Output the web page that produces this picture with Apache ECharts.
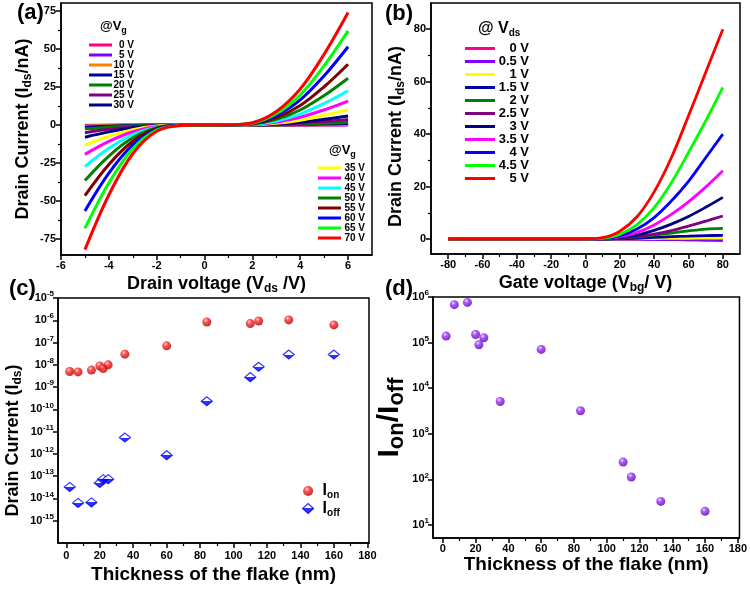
<!DOCTYPE html>
<html>
<head>
<meta charset="utf-8">
<script src="https://cdn.jsdelivr.net/npm/echarts@6/dist/echarts.min.js"></script>
<style>
  html, body { margin: 0; padding: 0; background: #fff; }
  #main { width: 750px; height: 590px; }
</style>
</head>
<body>
<div id="main"></div>
<script>
/* (a) output curves, Ids (nA) vs Vds at each gate voltage */
const vdsA = [-5, -4, -3, -2, -1, 0, 1, 2, 3, 4, 5, 6];
const vgLabels = ['0 V', '5 V', '10 V', '15 V', '20 V', '25 V', '30 V', '35 V', '40 V', '45 V', '50 V', '55 V', '60 V', '65 V', '70 V'];
const a_vg0 = [-0.1, -0.06, -0.02, 0, 0, 0, 0, 0, 0, 0.02, 0.03, 0.05];
const a_vg5 = [-0.3, -0.17, -0.07, -0.02, 0, 0, 0, 0, 0.02, 0.06, 0.13, 0.2];
const a_vg10 = [-0.6, -0.34, -0.14, -0.03, 0, 0, 0, 0.01, 0.05, 0.13, 0.25, 0.4];
const a_vg15 = [-1.4, -0.8, -0.3, -0.07, 0, 0, 0, 0.02, 0.12, 0.32, 0.63, 1];
const a_vg20 = [-2.5, -1.4, -0.6, -0.13, -0.01, 0, 0, 0.04, 0.22, 0.58, 1.13, 1.8];
const a_vg25 = [-5, -2.8, -1.2, -0.25, -0.02, 0, 0.01, 0.07, 0.44, 1.2, 2.3, 3.7];
const a_vg30 = [-8, -4.5, -1.8, -0.4, -0.03, 0, 0.01, 0.12, 0.7, 1.9, 3.8, 6];
const a_vg35 = [-13.2, -7.4, -3, -0.7, -0.05, 0, 0.02, 0.2, 1.2, 3.2, 6.4, 10.1];
const a_vg40 = [-19.3, -10.8, -4.4, -1, -0.08, 0, 0.03, 0.3, 1.9, 5.1, 10, 15.8];
const a_vg45 = [-27.3, -15.3, -6.3, -1.4, -0.1, 0, 0.05, 0.45, 2.7, 7.2, 14.2, 22.6];
const a_vg50 = [-36.5, -20.4, -8.4, -1.8, -0.15, 0, 0.06, 0.6, 3.7, 9.9, 19.4, 30.8];
const a_vg55 = [-46.5, -26, -10.7, -2.3, -0.2, 0, 0.08, 0.8, 4.8, 12.8, 25.2, 40];
const a_vg60 = [-56.5, -31.6, -13, -2.8, -0.2, 0, 0.1, 1, 6.2, 16.5, 32.4, 51.5];
const a_vg65 = [-68, -38.1, -15.6, -3.4, -0.3, 0, 0.12, 1.2, 7.4, 19.8, 39.1, 62];
const a_vg70 = [-82, -46, -18.9, -4.1, -0.3, 0, 0.15, 1.5, 8.9, 23.7, 46.6, 74];
const curvesA = [a_vg0, a_vg5, a_vg10, a_vg15, a_vg20, a_vg25, a_vg30, a_vg35, a_vg40, a_vg45, a_vg50, a_vg55, a_vg60, a_vg65, a_vg70];
const aXTicks = [-6, -4, -2, 0, 2, 4, 6];
const aXMinor = [-5, -3, -1, 1, 3, 5];
const aYTicks = [-75, -50, -25, 0, 25, 50, 75];
const aYMinor = [-62.5, -37.5, -12.5, 12.5, 37.5, 62.5];

/* (b) transfer curves, Ids (nA) vs Vbg at each drain voltage */
const vbgB = [-80, -60, -40, -20, 0, 10, 20, 30, 40, 50, 60, 70, 80];
const vdsLabels = ['0 V', '0.5 V', '1 V', '1.5 V', '2 V', '2.5 V', '3 V', '3.5 V', '4 V', '4.5 V', '5 V'];
const b_vds0 = [0, 0, 0, 0, 0, 0, -0.05, -0.1, -0.15, -0.2, -0.3, -0.4, -0.5];
const b_vds05 = [0, 0, 0, 0, 0, 0, -0.05, -0.1, -0.15, -0.2, -0.3, -0.4, -0.5];
const b_vds1 = [0, 0, 0, 0, 0, 0, 0.05, 0.1, 0.2, 0.25, 0.3, 0.35, 0.4];
const b_vds15 = [0, 0, 0, 0, 0, 0, 0.1, 0.3, 0.6, 0.9, 1.1, 1.3, 1.4];
const b_vds2 = [0, 0, 0, 0, 0, 0.02, 0.3, 0.8, 1.5, 2.3, 3.1, 3.8, 4.1];
const b_vds25 = [0, 0, 0, 0, 0, 0.03, 0.3, 0.9, 1.9, 3.2, 4.9, 6.8, 8.8];
const b_vds3 = [0, 0, 0, 0, 0, 0.05, 0.5, 1.5, 3.3, 5.7, 8.6, 12.1, 15.9];
const b_vds35 = [0, 0, 0, 0, 0, 0.1, 0.8, 2.5, 5.4, 9.4, 14.2, 19.8, 26];
const b_vds4 = [0, 0, 0, 0, 0, 0.2, 1.2, 3.8, 8.2, 14.5, 22, 31, 40];
const b_vds45 = [0, 0, 0, 0, 0, 0.3, 1.8, 5.5, 12, 21.5, 33, 45, 57.8];
const b_vds5 = [0, 0, 0, 0, 0, 0.5, 3, 8.5, 18, 31, 47, 63.5, 80];
const curvesB = [b_vds0, b_vds05, b_vds1, b_vds15, b_vds2, b_vds25, b_vds3, b_vds35, b_vds4, b_vds45, b_vds5];
const bXTicks = [-80, -60, -40, -20, 0, 20, 40, 60, 80];
const bXMinor = [-70, -50, -30, -10, 10, 30, 50, 70];
const bYTicks = [0, 20, 40, 60, 80];
const bYMinor = [10, 30, 50, 70];

/* (c), (d) thickness dependence */
const thickness = [2, 7, 15, 20, 22, 25, 35, 60, 84, 110, 115, 133, 160];
const ionC = [5.0e-9, 4.8e-9, 5.8e-9, 8.9e-9, 6.8e-9, 1.0e-8, 3.0e-8, 7.1e-8, 8.4e-7, 7.1e-7, 9.3e-7, 1.04e-6, 6.2e-7];
const ioffC = [3.3e-14, 6.3e-15, 6.6e-15, 5.0e-14, 7.3e-14, 7.3e-14, 5.4e-12, 8.7e-13, 2.3e-10, 2.8e-9, 8.1e-9, 2.9e-8, 2.9e-8];
const ratioD = [1.39e5, 6.8e5, 7.6e5, 1.51e5, 9.0e4, 1.28e5, 5.1e3, 7.1e4, 3.2e3, 240, 113, 33, 20];
const tXTicks = [0, 20, 40, 60, 80, 100, 120, 140, 160, 180];
const tXMinor = [10, 30, 50, 70, 90, 110, 130, 150, 170];
const cYTicks = [1e-15, 1e-14, 1e-13, 1e-12, 1e-11, 1e-10, 1e-9, 1e-8, 1e-7, 1e-6, 1e-5];
const dYTicks = [10, 100, 1000, 1e4, 1e5, 1e6];

const colorsA = ['#ff0080', '#8000ff', '#ff8000', '#0000a0', '#008000', '#800080', '#000080', '#ffff00',
  '#ff00ff', '#00ffff', '#008000', '#800000', '#0000ff', '#00ff00', '#ff0000'];
const colorsB = ['#ff0080', '#8000ff', '#ffff00', '#0000a0', '#008000', '#800080', '#000080', '#ff00ff',
  '#0000ff', '#00ff00', '#ff0000'];

const font = 'Liberation Sans';
const bold = { fontFamily: font, fontWeight: 'bold', color: '#000' };

// text styles with subscript (s) / superscript (p)
const richText = (size, subSize, off) => ({
  n: Object.assign({ fontSize: size }, bold),
  s: Object.assign({ fontSize: subSize, padding: [off, 0, 0, 0] }, bold),
  p: Object.assign({ fontSize: subSize, padding: [0, 0, off, 0] }, bold),
  g: { width: 4 },
});

const powLabel = (v) => '{n|10}{p|' + Math.round(Math.log10(v)) + '}';

const mainAxis = (gridIndex, min, max, ticks, extra) => Object.assign({
  type: 'value', gridIndex: gridIndex, min: min, max: max,
  axisLine: { show: true, onZero: false, lineStyle: { color: '#000', width: 1.5 } },
  axisTick: { show: true, length: 5, customValues: ticks, lineStyle: { color: '#000', width: 1.5 } },
  axisLabel: Object.assign({ customValues: ticks, fontSize: 11, margin: 5 }, bold),
  splitLine: { show: false },
}, extra);

// second axis on the same side, only for the short minor ticks
const minorAxis = (gridIndex, min, max, ticks, position) => ({
  type: 'value', gridIndex: gridIndex, min: min, max: max, position: position,
  axisLine: { show: false, onZero: false },
  axisLabel: { show: false },
  splitLine: { show: false },
  axisTick: { show: true, length: 3, customValues: ticks, lineStyle: { color: '#000', width: 1.2 } },
});

// shift moves a rotated y name down the page
const axisName = (size, subSize, off, gap, shift) => ({
  nameLocation: 'middle', nameGap: gap,
  nameTextStyle: { rich: richText(size, subSize, off), padding: [0, shift || 0, 0, 0] },
});

const sphere = (light, mid, dark) => ({
  type: 'radial', x: 0.38, y: 0.32, r: 0.68,
  colorStops: [{ offset: 0, color: light }, { offset: 0.35, color: mid }, { offset: 1, color: dark }],
});

const halfDiamond = {
  type: 'linear', x: 0, y: 0, x2: 0, y2: 1,
  colorStops: [{ offset: 0, color: '#fff' }, { offset: 0.5, color: '#fff' },
    { offset: 0.5, color: '#0000ff' }, { offset: 1, color: '#0000ff' }],
};
const ionStyle = { color: sphere('#ffd0d0', '#ff2a2a', '#b00000') };
const ioffStyle = { color: halfDiamond, borderColor: '#0000ff', borderWidth: 1.2 };

const pairs = (xs, ys) => xs.map((x, i) => [x, ys[i]]);

const lineLegend = (names, left, top, rowH, fontSize, iconW, textW) => ({
  data: names, orient: 'vertical', left: left, top: top, icon: 'rect',
  itemWidth: iconW, itemHeight: 3, itemGap: 0, selectedMode: false,
  formatter: (name) => '{t|' + name.split('|')[1] + '}',
  textStyle: { rich: { t: Object.assign({ fontSize: fontSize, width: textW, align: 'right', lineHeight: rowH }, bold) } },
});

let chartDom = document.getElementById('main');
let myChart = echarts.init(chartDom);

let series = [];
curvesA.forEach((ys, i) => {
  series.push({
    name: 'a|' + vgLabels[i], type: 'line', xAxisIndex: 0, yAxisIndex: 0,
    data: pairs(vdsA, ys), showSymbol: false, symbol: 'none', smooth: 0.35,
    color: colorsA[i], lineStyle: { width: 3, color: colorsA[i] },
  });
});
curvesB.forEach((ys, i) => {
  series.push({
    name: 'b|' + vdsLabels[i], type: 'line', xAxisIndex: 2, yAxisIndex: 2,
    data: pairs(vbgB, ys), showSymbol: false, symbol: 'none', smooth: 0.35,
    color: colorsB[i], lineStyle: { width: 2.8, color: colorsB[i] },
  });
});
series.push({
  name: 'on', type: 'scatter', xAxisIndex: 4, yAxisIndex: 4, data: pairs(thickness, ionC),
  symbol: 'circle', symbolSize: 9, itemStyle: ionStyle,
});
series.push({
  name: 'off', type: 'scatter', xAxisIndex: 4, yAxisIndex: 4, data: pairs(thickness, ioffC),
  symbol: 'diamond', symbolSize: [11, 9], itemStyle: ioffStyle,
});
series.push({
  name: 'ratio', type: 'scatter', xAxisIndex: 6, yAxisIndex: 5, data: pairs(thickness, ratioD),
  symbol: 'circle', symbolSize: 9, itemStyle: { color: sphere('#f0d8ff', '#9a30ff', '#5a00b0') },
});

const gridStyle = { show: true, borderColor: '#000', borderWidth: 1.5, backgroundColor: '#fff' };

let option = {
  animation: false,
  backgroundColor: '#fff',
  grid: [
    Object.assign({ left: 61, top: 3, width: 311, height: 252 }, gridStyle),
    Object.assign({ left: 431, top: 3, width: 309, height: 251 }, gridStyle),
    Object.assign({ left: 58, top: 298, width: 311, height: 245 }, gridStyle),
    Object.assign({ left: 433, top: 297, width: 308, height: 241 }, gridStyle),
  ],
  xAxis: [
    mainAxis(0, -6, 7, aXTicks, Object.assign({ position: 'bottom', name: '{n|Drain voltage (V}{s|ds}{n| /V)}' }, axisName(18, 12, 10, 18))),
    minorAxis(0, -6, 7, aXMinor, 'bottom'),
    mainAxis(1, -90, 90, bXTicks, Object.assign({ position: 'bottom', name: '{n|Gate voltage (V}{s|bg}{n|/ V)}' }, axisName(18, 12, 10, 18))),
    minorAxis(1, -90, 90, bXMinor, 'bottom'),
    mainAxis(2, -5, 181, tXTicks, Object.assign({
      position: 'bottom', name: '{n|Thickness of the flake (nm)}',
      axisLabel: Object.assign({ customValues: tXTicks, fontSize: 11, margin: 7 }, bold),
    }, axisName(19, 12, 10, 22))),
    minorAxis(2, -5, 181, tXMinor, 'bottom'),
    mainAxis(3, -6, 181, tXTicks, Object.assign({ position: 'bottom', name: '{n|Thickness of the flake (nm)}' }, axisName(19, 12, 10, 12))),
    minorAxis(3, -6, 181, tXMinor, 'bottom'),
  ],
  yAxis: [
    mainAxis(0, -85.5, 80.3, aYTicks, Object.assign({ position: 'left', name: '{n|Drain Current (I}{s|ds}{n|/nA)}' }, axisName(18, 12, 10, 27))),
    minorAxis(0, -85.5, 80.3, aYMinor, 'left'),
    mainAxis(1, -5.7, 90, bYTicks, Object.assign({ position: 'left', name: '{n|Drain Current (I}{s|ds}{n|/nA)}' }, axisName(18, 12, 10, 24, 16))),
    minorAxis(1, -5.7, 90, bYMinor, 'left'),
    mainAxis(2, 1e-16, 1e-5, cYTicks, Object.assign({
      type: 'log', logBase: 10, position: 'left',
      name: '{n|Drain Current (I}{s|ds}{n|)}',
      axisLabel: { customValues: cYTicks, margin: 4, formatter: powLabel, rich: richText(11, 8, 8) },
    }, axisName(18, 12, 10, 34, 40))),
    mainAxis(3, 5.2, 1e6, dYTicks, Object.assign({
      type: 'log', logBase: 10, position: 'left',
      name: '{n|I}{s|on}{n|/I}{s|off}',
      axisLabel: { customValues: dYTicks, margin: 4, formatter: powLabel, rich: richText(11, 8, 8) },
    }, axisName(30, 22, 15, 25))),
  ],
  title: [
    { text: '(a)', left: 12, top: -3, textStyle: Object.assign({ fontSize: 22 }, bold) },
    { text: '(b)', left: 380, top: -2, textStyle: Object.assign({ fontSize: 22 }, bold) },
    { text: '(c)', left: 4, top: 273, textStyle: Object.assign({ fontSize: 22 }, bold) },
    { text: '(d)', left: 380, top: 273, textStyle: Object.assign({ fontSize: 22 }, bold) },
    { text: '{n|@V}{s|g}', left: 95, top: 13, textStyle: { rich: richText(13, 9, 8) } },
    { text: '{n|@V}{s|g}', left: 324, top: 137, textStyle: { rich: richText(13, 9, 8) } },
    { text: '{n|@ V}{s|ds}', left: 473, top: 14, textStyle: { rich: richText(16, 10, 9) } },
  ],
  legend: [
    lineLegend(vgLabels.slice(0, 7).map((n) => 'a|' + n), 84, 35, 11.5, 10, 23, 17),
    lineLegend(vgLabels.slice(7).map((n) => 'a|' + n), 313, 158, 11.6, 10, 23, 19),
    lineLegend(vdsLabels.map((n) => 'b|' + n), 460, 37, 16.5, 13, 30, 29),
    {
      data: [{ name: 'on', itemStyle: ionStyle }, { name: 'off', itemStyle: ioffStyle }],
      orient: 'vertical', left: 297, top: 478,
      itemWidth: 11, itemHeight: 10, itemGap: 0, selectedMode: false,
      formatter: (name) => '{g|}{n|I}{s|' + name + '}',
      textStyle: { rich: Object.assign(richText(16, 10, 9), { n: Object.assign({ fontSize: 16, lineHeight: 24 }, bold) }) },
    },
  ],
  series: series,
};

option && myChart.setOption(option);
</script>
</body>
</html>
